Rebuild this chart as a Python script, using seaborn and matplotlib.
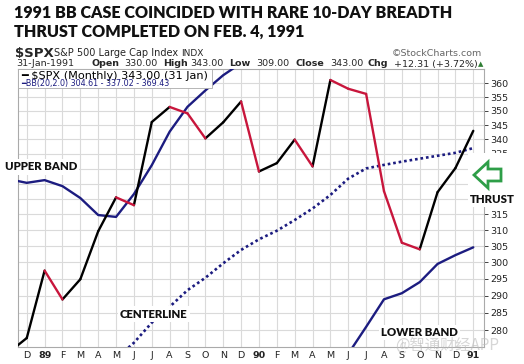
import numpy as np
import pandas as pd
import matplotlib
matplotlib.use("Agg")
import matplotlib.pyplot as plt
import seaborn as sns
from matplotlib.patches import Polygon, Rectangle
from matplotlib.ticker import FixedLocator, FixedFormatter, NullLocator

# ---- data (monthly, Nov 1988 .. Jan 1991) ----
month_labels = ['N', 'D', '89', 'F', 'M', 'A', 'M', 'J', 'J', 'A', 'S', 'O', 'N', 'D',
                '90', 'F', 'M', 'A', 'M', 'J', 'J', 'A', 'S', 'O', 'N', 'D', '91']
year_labels = ['89', '90', '91']
price = [273.70, 277.72, 297.47, 288.86, 294.87, 309.64, 320.52, 317.98, 346.08,
         351.45, 349.15, 340.36, 345.99, 353.40, 329.08, 331.89, 339.94, 330.80,
         361.23, 358.02, 356.15, 322.56, 306.05, 304.00, 322.22, 330.22, 343.00]
upper = [326.5, 325.3, 326.2, 324.2, 320.3, 314.8, 314.2, 321.6, 331.2, 342.7, 351.5,
         357.4, 363.0, 367.5, 368.5, 369.5, 371.5, 372.5, 377.0, 380.5, 379.3, 373.7,
         374.1, 372.8, 369.3, 368.6, 369.43]
center = [262.0, 262.5, 263.5, 264.5, 266.0, 268.5, 272.0, 276.4, 282.1, 286.7, 291.6,
          295.3, 299.7, 303.8, 307.1, 309.8, 313.2, 316.9, 321.3, 326.7, 330.1, 331.3,
          332.4, 333.4, 334.4, 335.4, 337.02]
lower = [197.5, 199.7, 200.8, 204.8, 211.7, 222.2, 229.8, 231.2, 233.0, 230.7, 231.7,
         233.2, 236.4, 240.1, 245.7, 250.1, 254.9, 261.3, 265.6, 273.3, 280.9, 288.9,
         290.7, 294.0, 299.5, 302.2, 304.61]
y_ticks = list(range(280, 361, 5))
hidden_y_labels = [320, 325, 330]   # covered by the THRUST marker in the original

W, H = 524, 364
def fx(p): return p / W
def fy(p): return 1 - p / H

sns.set_style("white")
fig = plt.figure(figsize=(W / 100, H / 100), dpi=100)
ax = fig.add_axes([fx(18), fy(347), (484 - 18) / W, (347 - 69) / H])

x = np.arange(len(price))
rows = []
for i in range(1, len(price)):
    d = 'down' if price[i] < price[i - 1] else 'up'
    rows.append(dict(seg=i, x=x[i - 1], y=price[i - 1], dir=d))
    rows.append(dict(seg=i, x=x[i], y=price[i], dir=d))
seg = pd.DataFrame(rows)

navy = '#1c1c80'
sns.lineplot(x=x, y=upper, color=navy, lw=1.7, ax=ax, zorder=3)
sns.lineplot(x=x, y=lower, color=navy, lw=1.7, ax=ax, zorder=3)
sns.lineplot(x=x, y=center, color=navy, lw=1.9, ax=ax, zorder=3,
             linestyle=(0, (1, 1.1)))
sns.lineplot(data=seg, x='x', y='y', hue='dir', units='seg', estimator=None,
             palette={'up': 'black', 'down': '#c8163c'}, lw=1.7, legend=False,
             ax=ax, zorder=4, solid_capstyle='round')

ax.set_yscale('log')
ax.set_ylim(275.2, 365.3)
ax.set_xlim(0.51, 26.6)
ax.yaxis.set_major_locator(FixedLocator(y_ticks))
ax.yaxis.set_major_formatter(FixedFormatter(
    ['' if t in hidden_y_labels else str(t) for t in y_ticks]))
ax.yaxis.set_minor_locator(NullLocator())
ax.yaxis.tick_right()
ax.set_xticks(x[1:])
ax.set_xticklabels(month_labels[1:])
for lab in ax.get_xticklabels():
    if lab.get_text() in year_labels:
        lab.set_fontweight('bold')
        lab.set_fontsize(7.5)
ax.set_xlabel('')
ax.set_ylabel('')
ax.grid(True, color='#dadada', lw=0.8)
ax.set_axisbelow(True)
ax.tick_params(axis='both', labelsize=6.8, colors='#222222', length=3, pad=1.5,
               width=0.6)
ax.tick_params(axis='x', length=0, pad=3)
for s in ax.spines.values():
    s.set_color('#aaaaaa')
    s.set_linewidth(0.8)

# legend box inside the plot
ax.add_patch(Rectangle((0, 1 - 19 / 278), (212 - 18) / 466, 19 / 278,
                       transform=ax.transAxes, facecolor='white',
                       edgecolor='#aaaaaa', lw=0.6, zorder=6))
ax.text(3 / 466, 1 - 7 / 278, "━ $SPX (Monthly) %.2f (31 Jan)" % price[-1],
        transform=ax.transAxes, fontsize=8.1, va='center', ha='left',
        color='black', zorder=7)
ax.text(3 / 466, 1 - 14.5 / 278,
        "━BB(20,2.0) %.2f - %.2f - %.2f" % (lower[-1], center[-1], upper[-1]),
        transform=ax.transAxes, fontsize=5.8, va='center', ha='left',
        color=navy, zorder=7)

# titles
tkw = dict(family='Lato', weight='heavy', color='#111111', va='center', ha='left')
fig.text(fx(14), fy(12.5), "1991 BB CASE COINCIDED WITH RARE 10-DAY BREADTH",
         fontsize=11.6, **tkw)
fig.text(fx(14), fy(32), "THRUST COMPLETED ON FEB. 4, 1991", fontsize=11.6, **tkw)

# header rows
fig.text(fx(15), fy(53), "$SPX", fontsize=9.5, weight='bold', va='center')
fig.text(fx(54), fy(53.5), "S&P 500 Large Cap Index", fontsize=7, va='center')
fig.text(fx(181), fy(53.5), "INDX", fontsize=6.5, va='center')
fig.text(fx(482), fy(53.5), "©StockCharts.com", fontsize=6.8, va='center',
         ha='right', color='#666666')
row = [(16, "31-Jan-1991", 'normal'), (92, "Open", 'bold'), (124, "330.00", 'normal'),
       (163, "High", 'bold'), (190, "343.00", 'normal'), (229, "Low", 'bold'),
       (256, "309.00", 'normal'), (295, "Close", 'bold'), (330, "343.00", 'normal'),
       (368, "Chg", 'bold'), (394, "+12.31 (+3.72%)", 'normal')]
for px, s, wgt in row:
    fig.text(fx(px), fy(64), s, fontsize=6.8, weight=wgt, va='center')
fig.text(fx(478), fy(64), "▲", fontsize=5, va='center', color='#2e7d32')

# annotations
akw = dict(family='Lato', weight='heavy', fontsize=8.2, color='#111111', va='center',
           ha='left', bbox=dict(facecolor='white', edgecolor='none', pad=1.5))
fig.text(fx(5), fy(167), "UPPER BAND", **akw)
fig.text(fx(120), fy(314), "CENTERLINE", **akw)
fig.text(fx(381), fy(332.5), "LOWER BAND", **akw)

# white area with arrow and THRUST label
fig.add_artist(Rectangle((fx(468), fy(207)), 56 / W, 54 / H, transform=fig.transFigure,
                         facecolor='white', edgecolor='none', zorder=3))
arrow_px = [(474, 175), (488, 162), (488, 169), (501, 169), (501, 181), (488, 181),
            (488, 188)]
fig.add_artist(Polygon([(fx(a), fy(b)) for a, b in arrow_px], closed=True,
                       transform=fig.transFigure, facecolor='white',
                       edgecolor='#2e9e48', lw=2.0, zorder=4, joinstyle='miter'))
fig.text(fx(470), fy(199.5), "THRUST", zorder=5, **{k: v for k, v in akw.items()
                                                     if k != 'bbox'})

# watermark
fig.text(fx(447), fy(345), "@智通财经APP", family=['Noto Sans CJK SC', 'DejaVu Sans'],
         fontsize=11, color='#bbbbbb', alpha=0.6, ha='center', va='center', zorder=10)

fig.savefig("out.png", dpi=100)
